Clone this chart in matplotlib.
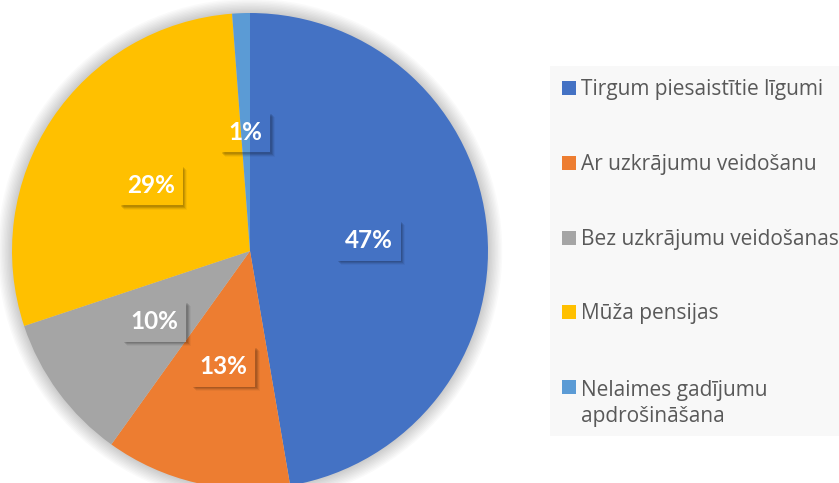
import numpy as np
import matplotlib.pyplot as plt
from matplotlib.patches import Rectangle, Circle

categories = ["Tirgum piesaistītie līgumi", "Ar uzkrājumu veidošanu",
              "Bez uzkrājumu veidošanas", "Mūža pensijas",
              "Nelaimes gadījumu\napdrošināšana"]
values = [47.3, 12.6, 10.0, 28.9, 1.2]
colors = ["#4472C4", "#ED7D31", "#A5A5A5", "#FFC000", "#5B9BD5"]

W, H = 839, 483
fig = plt.figure(figsize=(W / 100, H / 100), dpi=100)

# pie axes: centre (250, 251) px, radius 238 px
r = 238
ax = fig.add_axes([(250 - r) / W, (H - 251 - r) / H, 2 * r / W, 2 * r / H])
ax.set_aspect("equal")
ax.axis("off")

# soft glow around the pie
for k in range(10):
    ax.add_patch(Circle((0, 0), 1.0 + 0.006 * (k + 1), color="k", alpha=0.018,
                        lw=0, zorder=0, clip_on=False))

wedges, texts, autotexts = ax.pie(values, colors=colors, startangle=90,
                                  counterclock=False, radius=1.0,
                                  autopct="%.0f%%", pctdistance=0.5,
                                  wedgeprops=dict(linewidth=0),
                                  textprops=dict(color="white", fontweight="bold",
                                                 fontsize=17.5, family="Lato"))
for w in wedges:
    w.set_zorder(2)
    w.set_clip_on(False)
ax.set_xlim(-1, 1)
ax.set_ylim(-1, 1)


def add_rect(x, y, w, h, **kw):
    fig.patches.append(Rectangle((x / W, y / H), w / W, h / H,
                                 transform=fig.transFigure, edgecolor="none", **kw))


# label boxes with a soft drop shadow (sizes in pixels)
fig.canvas.draw()
rend = fig.canvas.get_renderer()
shadows = [(1.5, 0.10), (2.5, 0.10), (3.5, 0.07), (4.5, 0.04)]
for i, t in enumerate(autotexts):
    ext = t.get_window_extent(rend)
    cx, cy = (ext.x0 + ext.x1) / 2, (ext.y0 + ext.y1) / 2
    bw, bh = ext.width + 16, 40
    x0, y0 = cx - bw / 2, cy - bh / 2
    if values[i] >= 5:
        for d, a in shadows:
            add_rect(x0 + d, y0 - d, bw, bh, facecolor="k", alpha=a, zorder=4)
        add_rect(x0, y0, bw, bh, facecolor=colors[i], zorder=5)
    else:
        # see-through box: only the shadow edges show
        for d, a in shadows:
            add_rect(x0 + bw, y0 - d, d, bh, facecolor="k", alpha=a, zorder=4)
            add_rect(x0 + d, y0 - d, bw - d, d, facecolor="k", alpha=a, zorder=4)
    t.remove()
    fig.text(cx / W, cy / H, t.get_text(), ha="center", va="center",
             color="white", fontweight="bold", fontsize=17.5, family="Lato", zorder=6)

# legend panel
add_rect(550, H - 436, W - 550, 436 - 66, facecolor="#F8F8F8", zorder=0)
row_y = [88, 163, 238, 312, 387]
for lab, c, y in zip(categories, colors, row_y):
    add_rect(562, H - (y + 7), 14, 14, facecolor=c, zorder=1)
    nextra = lab.count("\n")
    fig.text(581 / W, 1 - (y + 7 + 28 * nextra) / H, lab, ha="left", va="baseline",
             fontsize=15, family="Open Sans", color="#595959", linespacing=1.3)

fig.savefig("out.png", dpi=100)
